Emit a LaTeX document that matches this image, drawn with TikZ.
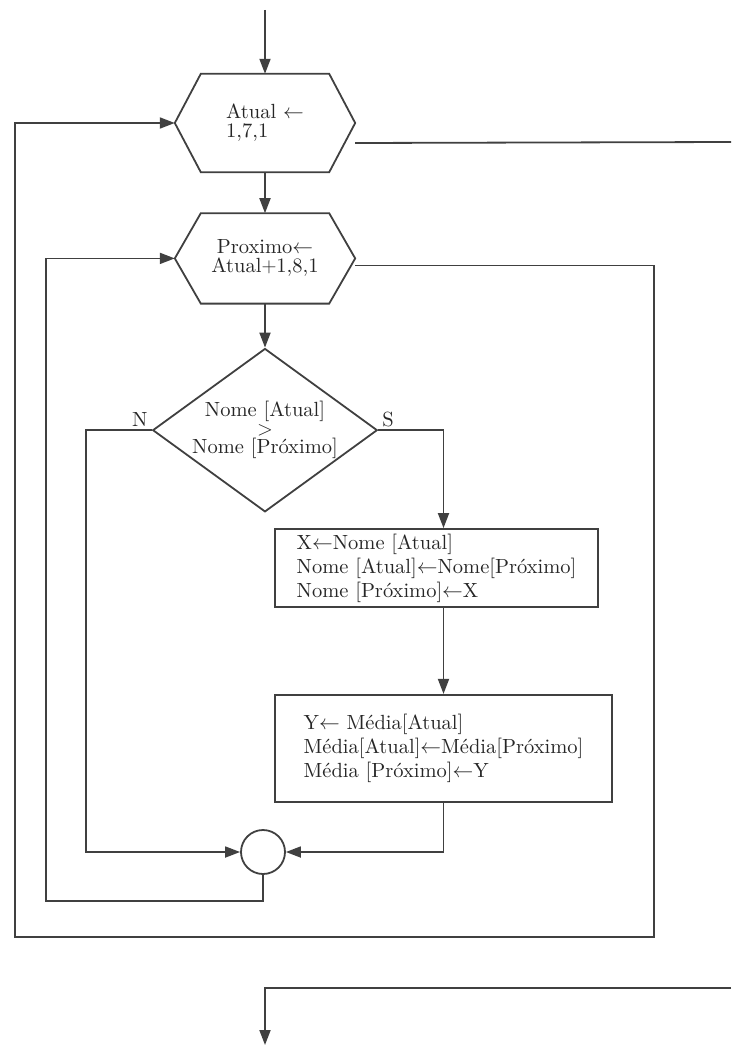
\documentclass[tikz,border=0pt]{standalone}
\usepackage{fontspec}
\setmainfont{lmroman10-regular}[Extension=.otf, BoldFont=lmroman10-bold]
\usetikzlibrary{arrows.meta, positioning, shapes.geometric}

\begin{document}
\begin{tikzpicture}[x=1pt, y=-1pt, >={Triangle[length=15pt, width=11pt]},
    line/.style={draw=black!75, line width=1.8pt},
    txt/.style={font=\fontsize{20.5}{19}\selectfont, text=black!85},
    hexa/.style={txt, minimum width=180pt, inner sep=0pt, align=center},
    box/.style={line, txt, font=\fontsize{20.5}{24}\selectfont, align=left, inner sep=0pt},
    decision/.style={line, txt, diamond, font=\fontsize{20.5}{18.5}\selectfont, align=center, minimum width=220pt, minimum height=160pt, inner sep=0pt, aspect=1.375},
    junction/.style={line, circle, minimum size=44pt, inner sep=0pt}]
    \useasboundingbox (0,0) rectangle (731,1057);

    % loop headers
    \node[hexa, minimum height=98pt, align=left] (h1) at (265,123) {Atual $\leftarrow$\\1,7,1};
    \node[hexa, minimum height=90pt, below=41pt of h1] (h2) {Proximo$\leftarrow$\\Atual$+$1,8,1};
    \foreach \n in {h1,h2}
        \draw[line] (\n.west) -- ([xshift=26pt]\n.north west) -- ([xshift=-26pt]\n.north east)
            -- (\n.east) -- ([xshift=-26pt]\n.south east) -- ([xshift=26pt]\n.south west) -- cycle;

    % test and swaps
    \node[decision, below=44pt of h2] (test) {Nome [Atual]\\$>$\\Nome [Próximo]};
    \node[box, minimum width=323pt, minimum height=78pt] (swapnome) at (436.5,568)
        {X$\leftarrow$Nome [Atual]\\Nome [Atual]$\leftarrow$Nome[Próximo]\\Nome [Próximo]$\leftarrow$X};
    \node[box, minimum width=337pt, minimum height=107pt, below=86pt of swapnome, xshift=7pt] (swapmedia)
        {Y$\leftarrow$ Média[Atual]\\Média[Atual]$\leftarrow$Média[Próximo]\\Média [Próximo]$\leftarrow$Y};
    \node[junction] (join) at (263,852) {};

    % free ends
    \coordinate (start) at (265,10);
    \coordinate (exitr) at (731,142);
    \coordinate (backr) at (731,988);
    \coordinate (fim) at (265,1045);
    \coordinate (outerr) at (654,937);
    \coordinate (outerl) at (15,937);
    \coordinate (innerl) at (46,901);

    \draw[line, ->] (start) -- (h1.north);
    \draw[line, ->] (h1.south) -- (h2.north);
    \draw[line, ->] (h2.south) -- (test.north);
    \draw[line, ->] (test.east) node[txt, above right=-1pt and 0pt] {S} -| (swapnome.north -| swapmedia.north);
    \draw[line, ->] (swapnome.south -| swapmedia.north) -- (swapmedia.north);
    \draw[line, ->] (swapmedia.south) |- (join.east);
    \draw[line, ->] (test.west) node[txt, above left=-1pt and 0pt] {N} -- ++(-66pt,0) |- (join.west);
    \draw[line, ->] (join.south) |- (innerl) |- (h2.west);
    \draw[line, ->] ([yshift=-7pt]h2.east) -| (outerr) -- (outerl) |- (h1.west);
    \draw[line] ([yshift=-20pt]h1.east) -- (exitr);
    \draw[line, ->] (backr) -| (fim);
\end{tikzpicture}
\end{document}
